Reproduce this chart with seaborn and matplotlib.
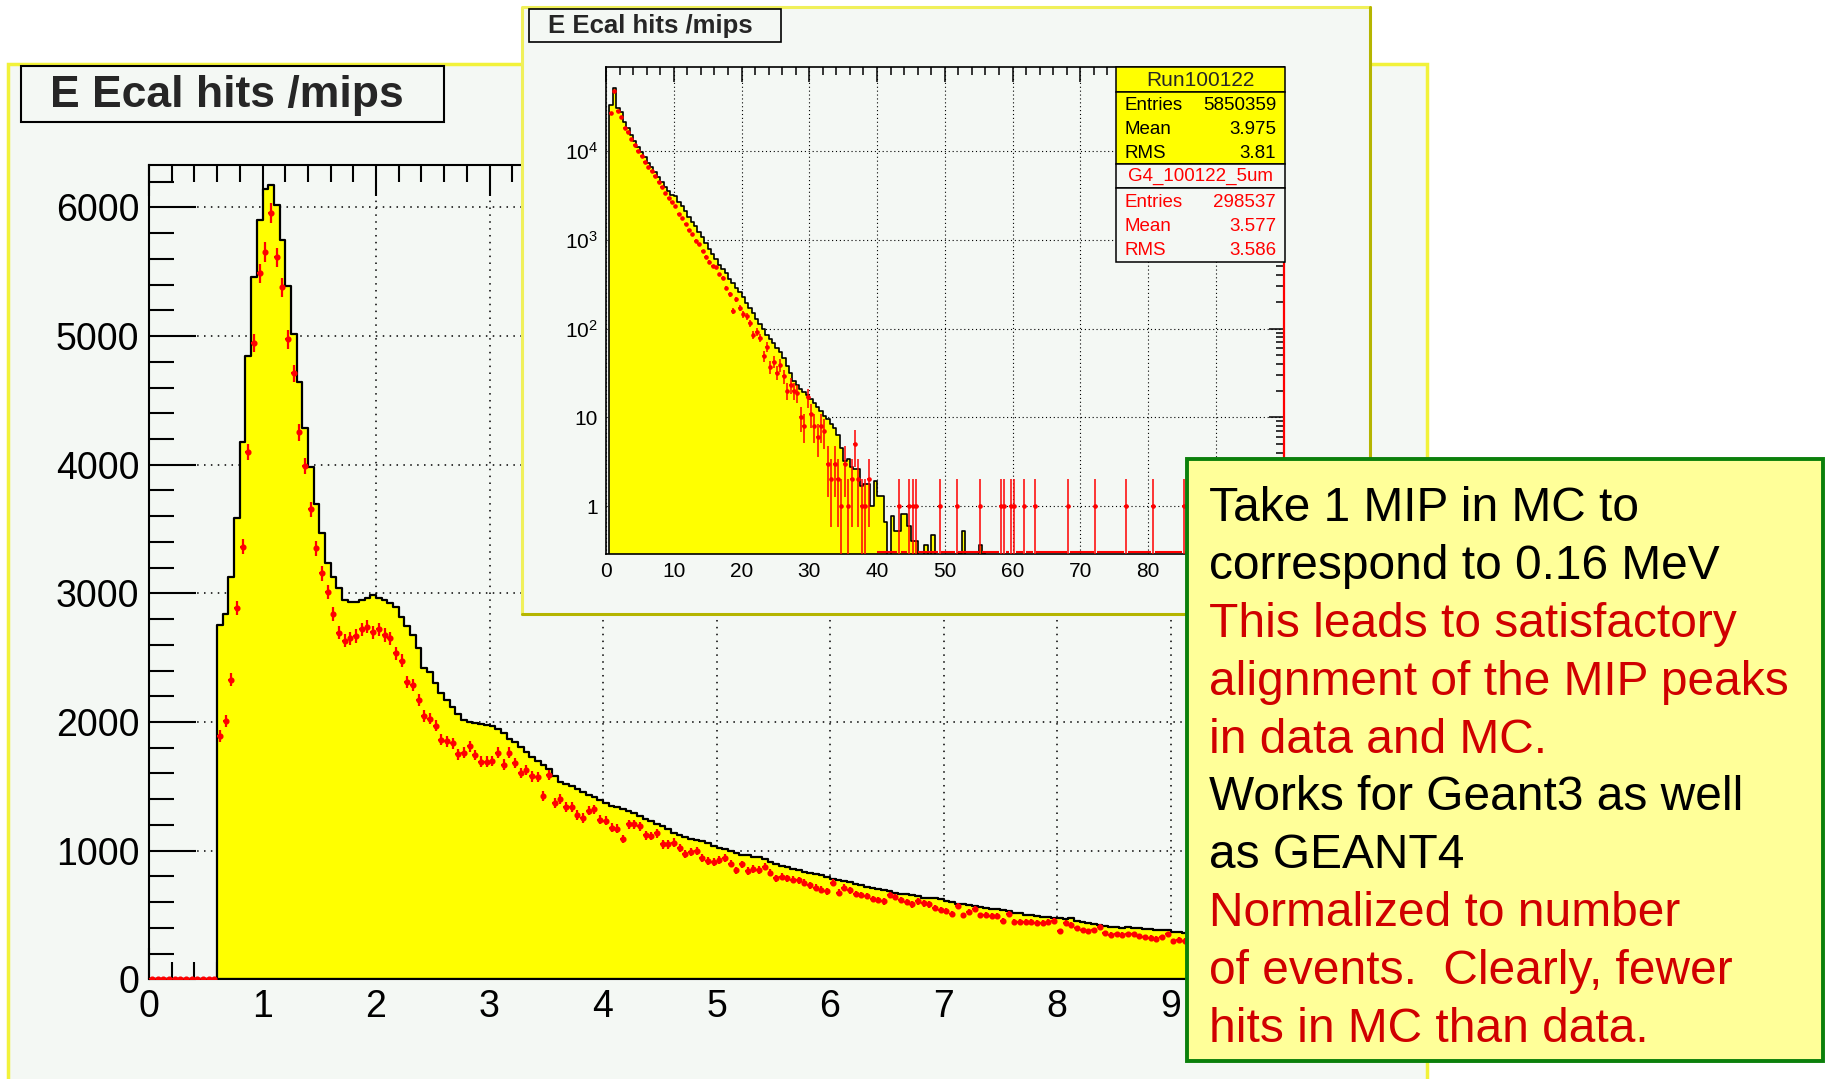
"""E Ecal hits /mips: data (yellow) vs MC (red), linear zoom + log inset."""
import numpy as np
import matplotlib
matplotlib.use("Agg")
import matplotlib.pyplot as plt
from matplotlib.patches import Rectangle
from matplotlib.lines import Line2D
from matplotlib.ticker import MultipleLocator, LogLocator, FuncFormatter, NullFormatter
import seaborn as sns

# ---------------- data: main plot, 200 bins of 0.05 mip on [0, 10] ----------------
data_main = [
    0, 0, 0, 0, 0, 0, 0, 0, 0, 0, 0, 0,
    2754, 2837, 3124, 3583, 4178, 4847, 5456, 5901,
    6147, 6178, 6018, 5746, 5388, 5015, 4640, 4282, 3984, 3694,
    3471, 3238, 3124, 3044, 2948, 2935, 2935, 2948, 2961, 2987,
    2961, 2948, 2922, 2891, 2818, 2746, 2676, 2572, 2420, 2391,
    2300, 2229, 2171, 2114, 2063, 2017, 2000, 1989, 1983, 1977,
    1966, 1943, 1914, 1869, 1843, 1806, 1766, 1729, 1697, 1669,
    1634, 1577, 1534, 1520, 1506, 1483, 1457, 1434, 1417, 1391,
    1371, 1351, 1337, 1323, 1309, 1291, 1271, 1243, 1229, 1206,
    1189, 1171, 1140, 1120, 1106, 1091, 1086, 1072, 1058, 1037,
    1020, 1014, 1000, 980, 968, 963, 951, 951, 934, 914,
    893, 882, 876, 859, 847, 836, 830, 818, 807, 798,
    778, 772, 767, 755, 741, 732, 720, 712, 703, 692,
    683, 674, 663, 660, 654, 646, 634, 631, 631, 625,
    605, 599, 588, 582, 576, 568, 559, 553, 548, 545,
    539, 530, 519, 513, 501, 496, 490, 487, 481, 478,
    473, 467, 476, 452, 447, 438, 432, 424, 418, 409,
    409, 401, 403, 395, 401, 389, 389, 386, 386, 380,
    366, 366, 362, 358, 355, 351, 349, 344, 341, 338,
    333, 330, 327, 323, 320, 317, 313, 311, 307, 304,
]
mc_main = [
    0, 0, 0, 0, 0, 0, 0, 0, 0, 0, 0, 0,
    1891, 2006, 2329, 2886, 3363, 4100, 4943, 5487,
    5655, 5958, 5611, 5378, 4974, 4710, 4251, 3989, 3653, 3350,
    3155, 3013, 2837, 2694, 2632, 2650, 2668, 2720, 2741, 2697,
    2720, 2676, 2650, 2534, 2476, 2313, 2287, 2169, 2049, 2026,
    1971, 1863, 1849, 1834, 1749, 1763, 1811, 1743, 1691, 1691,
    1697, 1763, 1669, 1763, 1683, 1606, 1626, 1577, 1571, 1426,
    1591, 1371, 1400, 1340, 1340, 1277, 1254, 1311, 1320, 1240,
    1234, 1177, 1171, 1091, 1206, 1206, 1191, 1120, 1114, 1134,
    1049, 1049, 1063, 1020, 971, 991, 1000, 942, 920, 914,
    928, 942, 900, 847, 893, 841, 856, 850, 876, 830,
    784, 798, 784, 775, 769, 749, 730, 712, 697, 683,
    749, 674, 712, 692, 663, 655, 646, 625, 615, 605,
    654, 640, 617, 600, 582, 605, 590, 582, 553, 539,
    530, 510, 568, 496, 520, 548, 496, 501, 495, 490,
    452, 510, 444, 444, 444, 444, 438, 438, 445, 452,
    375, 438, 424, 395, 380, 375, 380, 409, 360, 346,
    352, 346, 350, 352, 337, 330, 323, 317, 329, 352,
    294, 308, 300, 296, 305, 290, 288, 293, 281, 285,
    276, 279, 270, 272, 266, 268, 261, 259, 256, 252,
]

# ---------------- data: inset, 200 bins of 0.5 mip on [0, 100] ----------------
data_inset = [
    0, 32680, 51092, 30591, 27345, 20843, 18202, 14953, 12931, 11070,
    9695, 8446, 7372, 6501, 5723, 5034, 4436, 3939, 3530, 3185,
    3090, 2690, 2400, 2090, 1820, 1585, 1410, 1230, 1070, 912,
    794, 692, 603, 525, 468, 417, 363, 324, 288, 257,
    224, 195, 170, 148, 129, 112, 98, 85, 76, 68,
    60, 55, 46, 38, 32, 26, 23, 21, 19.5, 17.8,
    16.2, 14.5, 13.2, 11.7, 10.5, 9.5, 8.5, 7.6, 6.3, 4.5,
    3.2, 3.4, 2.8, 2.6, 2.6, 1.7, 1.8, 1.8, 1.0, 1.9,
    1.3, 1.3, 0.66, 0, 0.78, 0.52, 0.52, 0.82, 0.82, 0.6,
    0.41, 0.41, 0, 0, 0.37, 0, 0.48, 0, 0, 0,
    0, 0, 0, 0, 0.3, 0.53, 0, 0, 0, 0,
    0.37, 0.3,
] + [0] * 88
mc_inset_head = [
    0, 27005, 47529, 27807, 23900, 17965, 16381, 13444, 11644, 9919,
    8763, 7481, 6636, 5962, 5154, 4511, 3882, 3388, 2940, 2659,
    2400, 1950, 1740, 1510, 1290, 1150, 977, 891, 741, 646,
    562, 501, 490, 407, 372, 288, 245, 158, 214, 170,
    145, 138, 115, 85, 91, 79, 49, 62, 37, 42,
    32, 39, 29, 20, 23, 20, 19, 10, 8, 17,
    11, 8, 6, 8, 7, 3, 2, 3, 2, 1,
    3, 1, 2, 5, 2, 1, 1, 2,
]
# single MC hits in the far tail: bin centre (mips) -> count
mc_tail_x = [43.25, 44.75, 45.25, 45.75, 49.25, 51.75, 55.25, 58.25, 58.75, 59.75,
             60.25, 61.75, 63.25, 68.25, 72.25, 76.75, 80.75, 85.25]
mc_tail_n = [1] * len(mc_tail_x)
# MC error bar that runs up the right edge of the inset (last bin)
mc_edge_top = 550

data_stats = [("Entries", "5850359"), ("Mean", "3.975"), ("RMS", "3.81")]
mc_stats = [("Entries", "298537"), ("Mean", "3.577"), ("RMS", "3.586")]

note_lines = [
    ("Take 1 MIP in MC to", "black"),
    ("correspond to 0.16 MeV", "black"),
    ("This leads to satisfactory", "#d00000"),
    ("alignment of the MIP peaks", "#d00000"),
    ("in data and MC.", "#d00000"),
    ("Works for Geant3 as well", "black"),
    ("as GEANT4", "black"),
    ("Normalized to number", "#d00000"),
    ("of events.  Clearly, fewer", "#d00000"),
    ("hits in MC than data.", "#d00000"),
]

# ---------------- style ----------------
sns.set_theme(style="white")
plt.rcParams["font.family"] = ["Liberation Sans", "DejaVu Sans"]
plt.rcParams["mathtext.fontset"] = "custom"
plt.rcParams["mathtext.rm"] = "Liberation Sans"

W, H = 1826, 1079
BG = "#f4f8f4"
YEL = "#ffff00"
RED = "#ff0000"


def frac(x0, y0, x1, y1):
    """pixel box (top-left origin) -> figure fraction [l, b, w, h]"""
    return [x0 / W, 1 - y1 / H, (x1 - x0) / W, (y1 - y0) / H]


def fig_rect(fig, x0, y0, x1, y1, z, **kw):
    l, b, w, h = frac(x0, y0, x1, y1)
    fig.add_artist(Rectangle((l, b), w, h, transform=fig.transFigure, zorder=z, **kw))


def fig_line(fig, xs, ys, z, **kw):
    fig.add_artist(Line2D([x / W for x in xs], [1 - y / H for y in ys],
                          transform=fig.transFigure, zorder=z, **kw))


fig = plt.figure(figsize=(W / 100, H / 100), dpi=100)
fig.patch.set_facecolor("white")

# ---------------- main panel ----------------
fig_rect(fig, 8, 64, 1427, 1095, 0.1, facecolor=BG, edgecolor="#f2f23a", linewidth=2.5)
fig_rect(fig, 21, 66, 444, 122, 1.6, facecolor=BG, edgecolor="black", linewidth=1.5)
fig.text(50 / W, 1 - 95 / H, "E Ecal hits /mips", fontsize=32, fontweight="bold",
         va="center", ha="left", zorder=1.7)

edges_main = np.linspace(0, 10, len(data_main) + 1)
cent_main = 0.5 * (edges_main[:-1] + edges_main[1:])
mc_main = np.array(mc_main, dtype=float)

ax = fig.add_axes(frac(149, 165, 1284, 979.3))
ax.set_zorder(1)
ax.set_facecolor(BG)
sns.histplot(x=cent_main, weights=data_main, bins=edges_main.tolist(), element="step",
             fill=True, color=YEL, alpha=1, edgecolor="black", linewidth=1.6, ax=ax)
ax.errorbar(cent_main, mc_main, xerr=0.025, yerr=np.sqrt(mc_main), fmt="o", color=RED,
            ms=3.4, elinewidth=1.6, capsize=0, zorder=3)
ax.set_xlim(0, 10)
ax.set_ylim(0, 6330)
ax.set_xlabel("")
ax.set_ylabel("")
ax.set_axisbelow(True)
ax.grid(True, which="major", color="black", linestyle=(0, (1, 3.5)), linewidth=1.1)
# the "10" label sits under the note box in the reference, so only 0..9 are labelled
ax.set_xticks(np.arange(0, 10))
ax.xaxis.set_minor_locator(MultipleLocator(0.2))
ax.yaxis.set_major_locator(MultipleLocator(1000))
ax.yaxis.set_minor_locator(MultipleLocator(200))
ax.tick_params(axis="x", which="both", direction="in", top=True, bottom=True, width=1.5,
               labelsize=27, pad=7, colors="black")
ax.tick_params(axis="x", which="major", length=22)
ax.tick_params(axis="x", which="minor", length=12)
ax.tick_params(axis="y", which="both", direction="in", left=True, right=False, width=1.5,
               labelsize=27, pad=7, colors="black")
ax.tick_params(axis="y", which="major", length=34)
ax.tick_params(axis="y", which="minor", length=18)
for s in ax.spines.values():
    s.set_color("black")
    s.set_linewidth(1.5)

# ---------------- inset panel ----------------
fig_rect(fig, 522, 7, 1370, 614, 2, facecolor=BG, edgecolor="none")
fig_line(fig, [522, 522, 1370], [614, 7, 7], 2.1, color="#f0f05a", linewidth=2.2)
fig_line(fig, [522, 1370, 1370], [614, 614, 7], 2.1, color="#b5b500", linewidth=2.2)
fig_rect(fig, 529, 9, 781, 42, 2.6, facecolor=BG, edgecolor="black", linewidth=1.2)
fig.text(548 / W, 1 - 26 / H, "E Ecal hits /mips", fontsize=18.5, fontweight="bold",
         va="center", ha="left", zorder=2.7)

edges_in = np.linspace(0, 100, len(data_inset) + 1)
cent_in = 0.5 * (edges_in[:-1] + edges_in[1:])
mc_inset = np.zeros(len(cent_in))
mc_inset[:len(mc_inset_head)] = mc_inset_head
for xc, n in zip(mc_tail_x, mc_tail_n):
    mc_inset[np.argmin(np.abs(cent_in - xc))] = n

YLO, YHI = 0.29, 8.85e4
axi = fig.add_axes(frac(606, 66.7, 1283.5, 554))
axi.set_zorder(3)
axi.set_facecolor(BG)
sns.histplot(x=cent_in, weights=data_inset, bins=edges_in.tolist(), element="step",
             fill=True, color=YEL, alpha=1, edgecolor="black", linewidth=1.2, ax=axi)
axi.set_yscale("log")
nz = mc_inset > 0
axi.errorbar(cent_in[nz], mc_inset[nz], xerr=0.25, yerr=np.sqrt(mc_inset[nz]), fmt="o",
             color=RED, ms=2.3, elinewidth=1.1, capsize=0, zorder=3)
tail0 = ~nz & (cent_in > 40)
axi.errorbar(cent_in[tail0], np.full(tail0.sum(), YLO * 1.04),
             xerr=0.25, fmt="none", ecolor=RED, elinewidth=1.5, zorder=3)
axi.vlines(edges_in[-1], YLO, mc_edge_top, color=RED, linewidth=1.6, zorder=3, clip_on=False)
axi.set_xlim(0, 100)
axi.set_ylim(YLO, YHI)
axi.set_xlabel("")
axi.set_ylabel("")
axi.set_axisbelow(True)
axi.grid(True, which="major", color="black", linestyle=(0, (1, 2.5)), linewidth=0.8)
# "90" and "100" are hidden under the note box in the reference
inset_ticks = np.arange(0, 100, 10)
axi.set_xticks(inset_ticks, [str(t) if t < 90 else "" for t in inset_ticks])
axi.xaxis.set_minor_locator(MultipleLocator(2))
axi.yaxis.set_major_locator(LogLocator(base=10, numticks=10))
axi.yaxis.set_minor_locator(LogLocator(base=10, subs=np.arange(2, 10), numticks=20))
axi.yaxis.set_minor_formatter(NullFormatter())


def log_label(v, pos):
    if v < 0.5:
        return ""
    e = int(round(np.log10(v)))
    if e == 0:
        return "1"
    if e == 1:
        return "10"
    return r"$\mathregular{10^{%d}}$" % e


axi.yaxis.set_major_formatter(FuncFormatter(log_label))
axi.tick_params(axis="both", which="both", direction="in", top=True, right=True, width=1.1,
                labelsize=15, pad=6, colors="black")
axi.tick_params(axis="both", which="major", length=11)
axi.tick_params(axis="both", which="minor", length=6)
for s in axi.spines.values():
    s.set_color("black")
    s.set_linewidth(1.2)

# stats box
SX0, SX1 = 1116, 1285
fig_rect(fig, SX0, 67, SX1, 92, 4, facecolor=YEL, edgecolor="black", linewidth=1.1)
fig_rect(fig, SX0, 92, SX1, 164, 4, facecolor=YEL, edgecolor="black", linewidth=1.1)
fig_rect(fig, SX0, 164, SX1, 188, 4, facecolor=BG, edgecolor="black", linewidth=1.1)
fig_rect(fig, SX0, 188, SX1, 262, 4, facecolor=BG, edgecolor="black", linewidth=1.1)
fig.text((SX0 + SX1) / 2 / W, 1 - 80 / H, "Run100122", fontsize=15, ha="center",
         va="center", zorder=4.5)
fig.text((SX0 + SX1) / 2 / W, 1 - 176.5 / H, "G4_100122_5um", fontsize=13.5, color=RED,
         ha="center", va="center", zorder=4.5)
for rows, y0, col in [(data_stats, 105, "black"), (mc_stats, 202.5, RED)]:
    for i, (k, v) in enumerate(rows):
        y = 1 - (y0 + 24 * i) / H
        fig.text(1124 / W, y, k, fontsize=13.5, color=col, ha="left", va="center", zorder=4.5)
        fig.text(1276 / W, y, v, fontsize=13.5, color=col, ha="right", va="center", zorder=4.5)

# ---------------- note box ----------------
fig_rect(fig, 1187, 459, 1823, 1061, 5, facecolor="#ffff99", edgecolor="#0b800b", linewidth=2.8)
for i, (txt, col) in enumerate(note_lines):
    fig.text(1209 / W, 1 - (521 + 57.9 * i) / H, txt, fontsize=34.5, color=col,
             ha="left", va="baseline", zorder=5.5)

fig.savefig("out.png", dpi=100, facecolor="white")
